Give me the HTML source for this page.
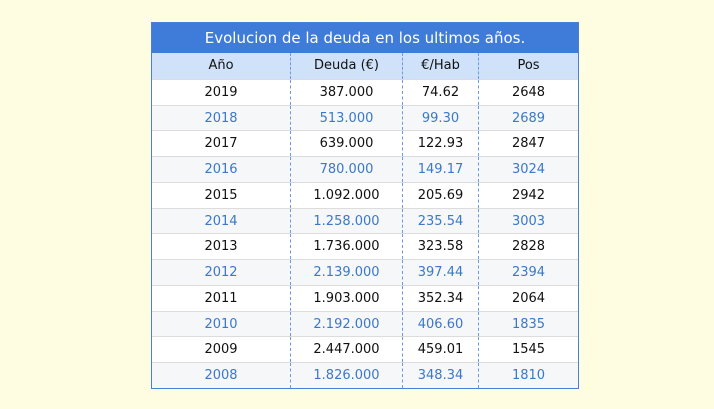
<!DOCTYPE html>
<html><head><meta charset="utf-8"><style>
body{margin:0;background:#fffde1;width:714px;height:409px;overflow:hidden;font-family:"DejaVu Sans","Liberation Sans",sans-serif;}
.t{position:absolute;left:151px;top:22px;width:428px;border:1px solid #4a7fd4;box-sizing:border-box;background:#fff}
.title{height:30px;background:#3f7bd8;color:#fff;font-size:15px;text-align:center;line-height:30px}
.row{display:flex;height:25.75px;line-height:25.75px;font-size:13px;text-align:center;border-top:1px solid #dcdcdc;box-sizing:border-box}
.row div{box-sizing:border-box;border-left:1px dashed #6a9ae0}
.row div:first-child{border-left:none}
.c1{width:138px}.c2{width:112px}.c3{width:76px}.c4{flex:1}
.h{background:#cfe2f9;color:#111;border-top:none}
.b{color:#3b78c9;background:#f6f7f9}
.k{color:#111}
</style></head><body>
<div class="t">
<div class="title">Evolucion de la deuda en los ultimos años.</div>
<div class="row h"><div class="c1">Año</div><div class="c2">Deuda (€)</div><div class="c3">€/Hab</div><div class="c4">Pos</div></div>
<div class="row k"><div class="c1">2019</div><div class="c2">387.000</div><div class="c3">74.62</div><div class="c4">2648</div></div>
<div class="row b"><div class="c1">2018</div><div class="c2">513.000</div><div class="c3">99.30</div><div class="c4">2689</div></div>
<div class="row k"><div class="c1">2017</div><div class="c2">639.000</div><div class="c3">122.93</div><div class="c4">2847</div></div>
<div class="row b"><div class="c1">2016</div><div class="c2">780.000</div><div class="c3">149.17</div><div class="c4">3024</div></div>
<div class="row k"><div class="c1">2015</div><div class="c2">1.092.000</div><div class="c3">205.69</div><div class="c4">2942</div></div>
<div class="row b"><div class="c1">2014</div><div class="c2">1.258.000</div><div class="c3">235.54</div><div class="c4">3003</div></div>
<div class="row k"><div class="c1">2013</div><div class="c2">1.736.000</div><div class="c3">323.58</div><div class="c4">2828</div></div>
<div class="row b"><div class="c1">2012</div><div class="c2">2.139.000</div><div class="c3">397.44</div><div class="c4">2394</div></div>
<div class="row k"><div class="c1">2011</div><div class="c2">1.903.000</div><div class="c3">352.34</div><div class="c4">2064</div></div>
<div class="row b"><div class="c1">2010</div><div class="c2">2.192.000</div><div class="c3">406.60</div><div class="c4">1835</div></div>
<div class="row k"><div class="c1">2009</div><div class="c2">2.447.000</div><div class="c3">459.01</div><div class="c4">1545</div></div>
<div class="row b"><div class="c1">2008</div><div class="c2">1.826.000</div><div class="c3">348.34</div><div class="c4">1810</div></div>
</div>
</body></html>
